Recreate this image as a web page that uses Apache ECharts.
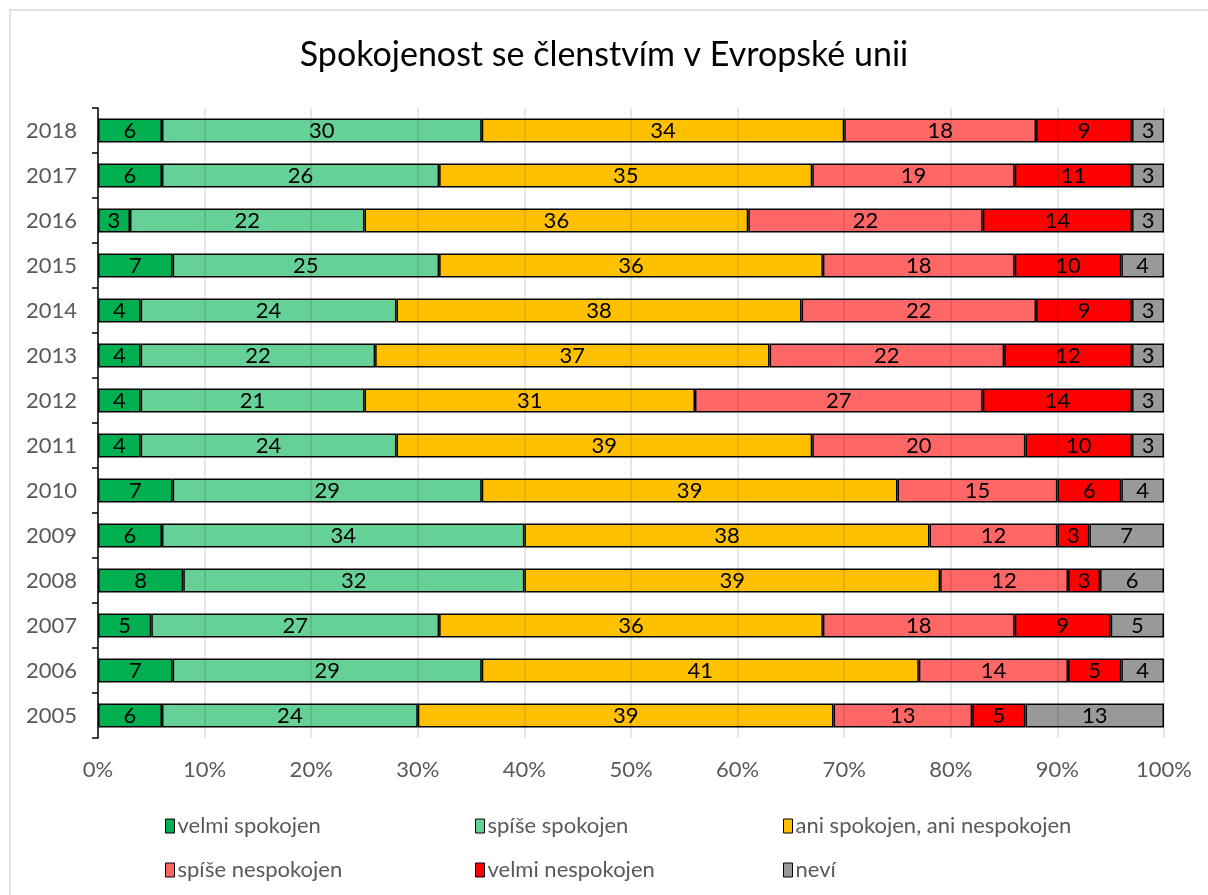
<!DOCTYPE html>
<html>
<head>
<meta charset="utf-8">
<script src="https://cdn.jsdelivr.net/npm/echarts@6/dist/echarts.min.js"></script>
<style>
  html, body {margin: 0; padding: 0; background: #fff;}
  #main {width: 1208px; height: 895px;}
</style>
</head>
<body>
<div id="main"></div>
<script>
// years from bottom to top
var years = ['2005', '2006', '2007', '2008', '2009', '2010', '2011', '2012', '2013', '2014', '2015', '2016', '2017', '2018'];
var velmiSpokojen = [6, 7, 5, 8, 6, 7, 4, 4, 4, 4, 7, 3, 6, 6];
var spiseSpokojen = [24, 29, 27, 32, 34, 29, 24, 21, 22, 24, 25, 22, 26, 30];
var aniAni = [39, 41, 36, 39, 38, 39, 39, 31, 37, 38, 36, 36, 35, 34];
var spiseNespokojen = [13, 14, 18, 12, 12, 15, 20, 27, 22, 22, 18, 22, 19, 18];
var velmiNespokojen = [5, 5, 9, 3, 3, 6, 10, 14, 12, 9, 10, 14, 11, 9];
var nevi = [13, 4, 5, 6, 7, 4, 3, 3, 3, 3, 4, 3, 3, 3];

var names = ['velmi spokojen', 'spíše spokojen', 'ani spokojen, ani nespokojen', 'spíše nespokojen', 'velmi nespokojen', 'neví'];
var colors = ['#00b050', '#66d196', '#ffc000', '#ff6666', '#ff0000', '#999999'];
var values = [velmiSpokojen, spiseSpokojen, aniAni, spiseNespokojen, velmiNespokojen, nevi];

var font = 'Lato, "Noto Sans", sans-serif';

var chart = echarts.init(document.getElementById('main'));

var series = names.map(function (n, i) {
  return {
    name: n,
    type: 'bar',
    stack: 'all',
    barWidth: 24,
    data: values[i],
    itemStyle: {color: colors[i], borderColor: '#000', borderWidth: 1.5},
    label: {
      show: true,
      position: 'inside',
      color: '#000',
      fontSize: 22,
      fontFamily: font
    }
  };
});

// one legend per item so the columns line up like in the original
var legendPos = [[160, 810], [470, 810], [778, 810], [160, 854], [470, 854], [778, 854]];
var legends = names.map(function (n, i) {
  return {
    data: [n],
    left: legendPos[i][0],
    top: legendPos[i][1],
    itemWidth: 9,
    itemHeight: 14,
    itemGap: 4,
    icon: 'rect',
    itemStyle: {borderColor: '#000', borderWidth: 1},
    textStyle: {color: '#595959', fontSize: 22, fontFamily: font, padding: [0, 0, 0, -2]}
  };
});

chart.setOption({
  animation: false,
  title: {
    text: 'Spokojenost se členstvím v Evropské unii',
    left: 'center',
    top: 33,
    textStyle: {color: '#000', fontSize: 34, fontWeight: 'normal', fontFamily: font}
  },
  legend: legends,
  grid: {left: 98, right: 44, top: 108, bottom: 157},
  xAxis: {
    type: 'value',
    min: 0,
    max: 100,
    interval: 10,
    z: 5,
    axisLine: {show: false},
    axisTick: {show: false},
    splitLine: {lineStyle: {color: 'rgba(0,0,0,0.13)', width: 1.5}},
    axisLabel: {
      color: '#595959',
      fontSize: 22,
      fontFamily: font,
      margin: 21,
      formatter: function (v) { return v + '%'; }
    }
  },
  yAxis: {
    type: 'category',
    data: years,
    z: 6,
    axisLine: {lineStyle: {color: '#000', width: 1.5}},
    axisTick: {show: true, length: 6, lineStyle: {color: '#000', width: 1.5}},
    axisLabel: {color: '#595959', fontSize: 22, fontFamily: font, margin: 21}
  },
  graphic: [{
    type: 'rect',
    shape: {x: 10, y: 10, width: 1210, height: 900},
    style: {fill: 'none', stroke: '#d9d9d9', lineWidth: 1.5},
    silent: true
  }],
  series: series
});
</script>
</body>
</html>
